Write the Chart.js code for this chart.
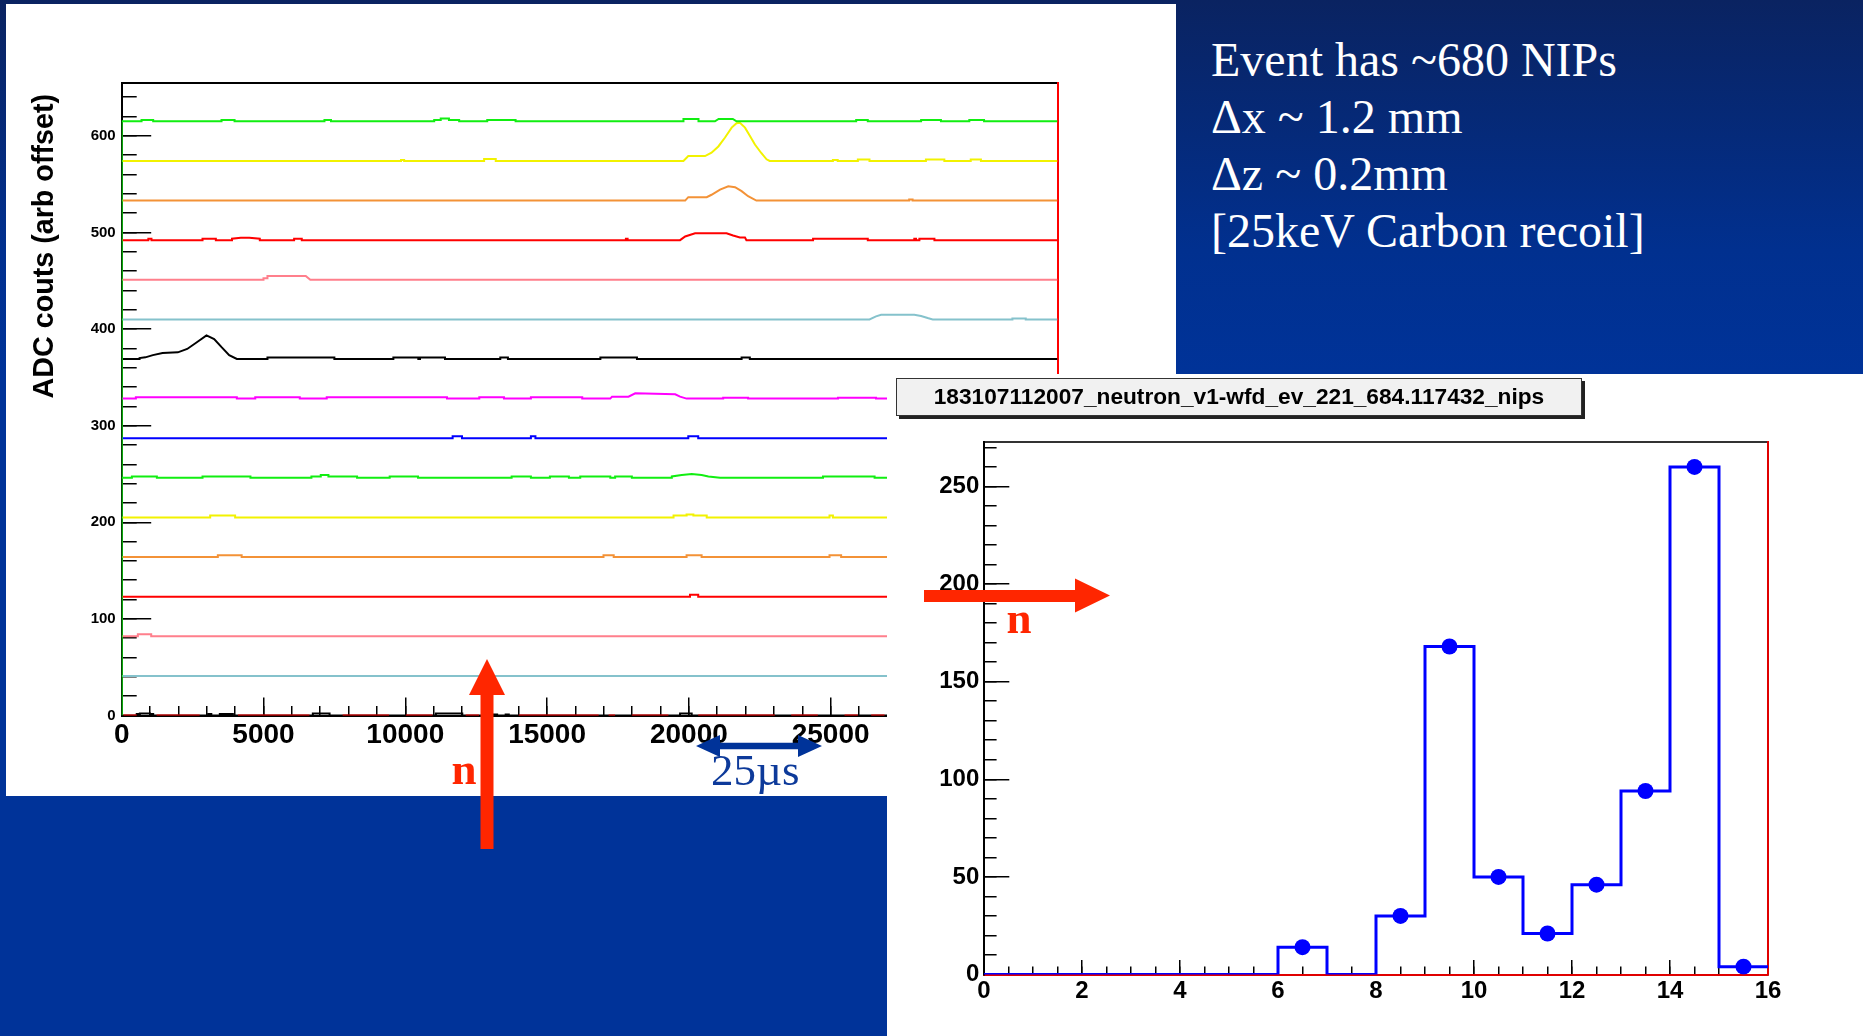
<!DOCTYPE html>
<html>
<head>
<meta charset="utf-8">
<title>NIP event 221</title>
<script src="https://cdn.jsdelivr.net/npm/chart.js@4.4.1/dist/chart.umd.min.js"></script>
<style>
  html, body { margin: 0; padding: 0; }
  body {
    width: 1863px; height: 1036px; position: relative; overflow: hidden;
    background: linear-gradient(180deg, #0a2361 0px, #01308f 250px, #003399 380px, #003399 100%);
  }
  #wfPanel { position: absolute; left: 6px; top: 4px; width: 1170px; height: 792px; background: #fff; }
  #histPanel { position: absolute; left: 887px; top: 374px; width: 976px; height: 662px; background: #fff; }
  #histTitle {
    position: absolute; left: 9px; top: 4px; width: 686px; height: 38px; box-sizing: border-box;
    background: #f1f1f1; border: 1.5px solid #333; box-shadow: 3px 3px 0 #222;
    font: bold 22.7px "Liberation Sans", Arial, sans-serif; color: #000;
    text-align: center; line-height: 35px; white-space: nowrap;
  }
  #notes {
    position: absolute; left: 1211px; top: 30.5px; color: #fff;
    font: 48px "Liberation Serif", "Times New Roman", serif; line-height: 57.3px; white-space: nowrap;
  }
  #marks { position: absolute; left: 0; top: 0; }
  canvas { display: block; }
</style>
</head>
<body>

<div id="wfPanel"><canvas id="wf" width="1170" height="792"></canvas></div>

<div id="notes">Event has ~680 NIPs<br>Δx ~ 1.2 mm<br>Δz ~ 0.2mm<br>[25keV Carbon recoil]</div>

<div id="histPanel">
  <canvas id="hist" width="976" height="662"></canvas>
  <div id="histTitle">183107112007_neutron_v1-wfd_ev_221_684.117432_nips</div>
</div>

<svg id="marks" width="1863" height="1036">
  <!-- beam direction, vertical -->
  <polygon fill="#ff2600" points="480.5,849 480.5,695 469,695 487,659 505,695 493.5,695 493.5,849"/>
  <text x="464" y="784" text-anchor="middle" fill="#ff2600" font-family="Liberation Serif" font-weight="bold" font-size="45">n</text>
  <!-- beam direction, horizontal -->
  <polygon fill="#ff2600" points="924,590 1075,590 1075,578.5 1110,595.5 1075,612.5 1075,602 924,602"/>
  <text x="1019" y="633" text-anchor="middle" fill="#ff2600" font-family="Liberation Serif" font-weight="bold" font-size="45">n</text>
  <!-- 25 microsecond span -->
  <polygon fill="#003399" points="696,746 720,735 720,742.7 798,742.7 798,735 822,746 798,757 798,749.3 720,749.3 720,757"/>
  <text x="711" y="785" fill="#0d3a9a" font-family="Liberation Serif" font-size="45">25µs</text>
</svg>

<script>
Chart.defaults.font.family = '"Liberation Sans", Arial, sans-serif';
Chart.defaults.color = '#000';

// ---- waveform display: 16 wfd channels, each shifted by a fixed offset ----
const wfSampleMax = 33000;
const wfCountMax = 655;
const wfMajorStep = 5000;
const wfMinorStep = 1000;
const chanOffset = [615, 574, 533, 492, 451, 410, 369, 328, 287, 246, 205, 164, 123, 82, 41, 0];
const chanColor = ['#11ee11', '#f2f200', '#f39237', '#ff0000', '#ff7f8c', '#85c2cc', '#000000', '#ff00ff',
                   '#0000ff', '#11ee11', '#f2f200', '#f39237', '#ff0000', '#ff7f8c', '#85c2cc', '#000000'];

// [sample, counts above the channel offset]
const ch15 = [[0,-615],[0,0],[700,0],[700,1.5],[1110,1.5],[1110,0],[3520,0],[3520,1.5],[3980,1.5],[3980,0],
  [7150,0],[7150,1.5],[7380,1.5],[7380,0],[11020,0],[11020,1.5],[11250,1.5],[11250,3],[11540,3],[11540,1.5],
  [11900,1.5],[11900,0],[12890,0],[12890,1.5],[13890,1.5],[13890,0],[19810,0],[19810,2.5],[20340,2.5],[20340,0],
  [20920,0],[21050,2.5],[21550,2.5],[21680,0],[25900,0],[25900,1.5],[26310,1.5],[26310,0],[28190,0],[28190,1.5],
  [28890,1.5],[28890,0],[29890,0],[29890,1.5],[30410,1.5],[30410,0]];
const ch14 = [[9850,0],[9850,1],[9960,1],[9960,0],[12780,0],[12780,2],[13190,2],[13190,0],[19810,0],[19980,5],
  [20570,5],[20800,8.5],[21040,15],[21270,24],[21510,34.5],[21680,39],[21800,39.5],[21980,34.5],[22150,26],
  [22330,17],[22560,8],[22740,1.7],[22850,0],[25080,0],[25080,1],[25250,1],[25250,0],[25960,0],[25960,1.5],
  [26370,1.5],[26370,0],[28360,0],[28360,1.5],[29010,1.5],[29010,0],[29940,0],[29940,1.5],[30300,1.5],[30300,0]];
const ch13 = [[19870,0],[19980,3.5],[20630,3.5],[20800,6],[21100,11.4],[21390,14.8],[21630,13.8],[21860,9.7],
  [22090,4.5],[22380,0],[27770,0],[27770,1],[27890,1],[27890,0]];
const ch12 = [[940,0],[940,1.5],[1050,1.5],[1050,0],[2850,0],[2850,1.5],[3320,1.5],[3320,0],[3890,0],[3890,1.5],
  [4200,2.5],[4500,2.5],[4870,1.5],[4870,0],[6080,0],[6080,1.5],[6350,1.5],[6350,0],[17780,0],[17780,1.5],
  [17840,1.5],[17840,0],[19690,0],[19870,3.8],[20220,7.2],[21330,7.2],[21560,4.8],[21800,2.8],[21980,2.8],
  [22030,0],[24380,0],[24380,1.5],[26310,1.5],[26310,0],[27950,0],[27950,1.5],[28010,1.5],[28010,0],
  [28130,0],[28130,1.5],[28660,1.5],[28660,0]];
const ch11 = [[5000,0],[5000,1.5],[5140,1.5],[5140,4],[6490,4],[6650,0]];
const ch10 = [[26370,0],[26600,3.1],[26780,4.8],[27950,4.8],[28190,3.5],[28420,1.4],[28600,0],[31410,0],
  [31410,1],[31880,1],[31880,0]];
const ch9 = [[630,0],[630,1],[835,1.7],[1100,4],[1440,6.2],[1980,6.9],[2310,10.4],[2650,17.3],[2990,24.5],
  [3260,20.7],[3530,12],[3790,4],[4060,0],[5140,0],[5140,1.5],[7500,1.5],[7500,0],[9580,0],[9580,1.5],
  [10460,1.5],[10460,0],[10520,0],[10520,1.5],[11400,1.5],[11400,0],[13350,0],[13350,1.5],[13620,1.5],
  [13620,0],[16880,0],[16880,1.5],[18170,1.5],[18170,0],[21860,0],[21860,1.5],[22150,1.5],[22150,0]];
const ch8 = [[500,0],[500,1.5],[4060,1.5],[4060,0],[4710,0],[4710,1.5],[6280,1.5],[6280,0],[7230,0],[7230,1.5],
  [11470,1.5],[11470,0],[12610,0],[12610,1.5],[13480,1.5],[13480,0],[14430,0],[14430,1.5],[16240,1.5],
  [16240,0],[17230,0],[17290,2],[17870,2],[18110,5.5],[19520,4.5],[19690,2],[19920,0],[21210,0],[21210,1],
  [22090,1],[22090,0],[25260,0],[25260,1],[26600,1],[26600,0]];
const ch7 = [[11670,0],[11670,2],[12000,2],[12000,0],[14430,0],[14430,2],[14590,2],[14590,0],[19980,0],
  [19980,2],[20330,2],[20330,0]];
const ch6 = [[360,0],[360,1.5],[1240,1.5],[1240,0],[2850,0],[2850,1.5],[4540,1.5],[4540,0],[6690,0],[6690,1.5],
  [7020,1.5],[7020,3],[7290,3],[7290,1.5],[8300,1.5],[8300,0],[9450,0],[9450,1.5],[10450,1.5],[10450,0],
  [13750,0],[13750,1.5],[14430,1.5],[14430,0],[15100,0],[15100,1.5],[15770,1.5],[15770,0],[16170,0],
  [16170,1.5],[17230,1.5],[17230,0],[17400,0],[17400,1.5],[17990,1.5],[17990,0],[19400,0],[19400,1.5],
  [19750,3],[20100,4],[20450,3],[20690,1.5],[21100,0],[24730,0],[24730,1.5],[26550,1.5],[26550,0]];
const ch5 = [[3120,0],[3120,2],[4000,2],[4000,0],[19460,0],[19460,2],[19920,2],[19920,3],[20160,3],[20160,2],
  [20630,2],[20630,0],[24960,0],[24960,2],[25080,2],[25080,0]];
const ch4 = [[3390,0],[3390,2],[4230,2],[4230,0],[16990,0],[16990,2],[17350,2],[17350,0],[19920,0],[19920,2],
  [20450,2],[20450,0],[24960,0],[24960,2],[25370,2],[25370,0]];
const ch3 = [[20040,0],[20040,2],[20330,2],[20330,0]];
const ch2 = [[570,0],[570,2],[1040,2],[1040,0]];
const ch1 = [];
const ch0 = [[530,0],[530,1.5],[640,1.5],[640,2],[1000,2],[1000,1.5],[1110,1.5],[1110,0],[3050,0],[3050,1.5],
  [3160,1.5],[3160,0],[3460,0],[3460,1.5],[3920,1.5],[3920,0],[6740,0],[6740,2],[7330,2],[7330,0],[11080,0],
  [11080,2],[12010,2],[12010,0],[13070,0],[13070,1],[13240,1],[13240,0],[13540,0],[13540,1],[13650,1],
  [13650,0],[19690,0],[19690,2],[20100,2],[20100,0]];
const chanPulses = [ch15, ch14, ch13, ch12, ch11, ch10, ch9, ch8, ch7, ch6, ch5, ch4, ch3, ch2, ch1, ch0];

// stretches where the red trace lies on top of the zero line [from, to]
const zeroRedRuns = [[60,530],[1230,2750],[4100,6620],[7790,9430],[10020,10960],[12130,12600],[14000,16820],
  [17170,17400],[17990,19280],[20330,23030],[23610,24550],[25490,25960],[26430,26900]];

// ---- NIPs per bin ----
const binEdges = [0,1,2,3,4,5,6,7,8,9,10,11,12,13,14,15,16];
const nipCounts = [0,0,0,0,0,0,14,0,30,168,50,21,46,94,260,4];
const histMax = 273;

function traceData(base, pulse) {
  const pts = [{x: 0, y: base}];
  pulse.forEach(([s, dy]) => pts.push({x: s, y: base + dy}));
  pts.push({x: wfSampleMax, y: base});
  return pts;
}

// first dataset is drawn last, so the upper channels sit on top
const wfSets = chanPulses.map((p, i) => ({
  data: traceData(chanOffset[i], p),
  borderColor: chanColor[i],
  borderWidth: 2,
  pointRadius: 0,
  tension: 0,
  fill: false
}));
const redRunData = [];
zeroRedRuns.forEach(([a, b]) => { redRunData.push({x: a, y: 0}, {x: b, y: 0}, {x: b, y: null}); });
wfSets.splice(wfSets.length - 1, 0, {
  data: redRunData, borderColor: '#ff0000', borderWidth: 2, pointRadius: 0, tension: 0, fill: false, spanGaps: false
});

// fixed tick spacing on the sample axis (the axis end is not a multiple of the step)
function sampleTicks(step) {
  return scale => {
    const ticks = [];
    for (let v = 0; v <= wfSampleMax; v += step) ticks.push({ value: v });
    scale.ticks = ticks;
  };
}

// rotated axis title placed on the left margin
const sideTitle = {
  id: 'sideTitle',
  afterDraw(chart, args, opts) {
    const ctx = chart.ctx;
    ctx.save();
    ctx.translate(opts.x, opts.y);
    ctx.rotate(-Math.PI / 2);
    ctx.font = opts.font;
    ctx.fillStyle = opts.color;
    ctx.textAlign = 'right';
    ctx.textBaseline = 'middle';
    ctx.fillText(opts.text, 0, 0);
    ctx.restore();
  }
};

const plainNum = v => String(v);

new Chart(document.getElementById('wf'), {
  type: 'line',
  data: { datasets: wfSets },
  plugins: [sideTitle],
  options: {
    responsive: false,
    animation: false,
    devicePixelRatio: 1,
    layout: { padding: { left: 0, top: 78.7, right: 118.5, bottom: 0 } },
    plugins: {
      legend: { display: false },
      tooltip: { enabled: false },
      sideTitle: { text: 'ADC couts (arb offset)', x: 39, y: 90, font: 'bold 28.7px "Liberation Sans"', color: '#000' }
    },
    scales: {
      x: {
        type: 'linear', position: 'bottom', min: 0, max: wfSampleMax, weight: 1,
        afterBuildTicks: sampleTicks(wfMajorStep),
        afterFit: s => { s.height = 80.5; },
        ticks: { autoSkip: false, maxRotation: 0, padding: 21,
                 font: { size: 28, weight: 'bold' }, callback: plainNum },
        grid: { drawOnChartArea: false, tickLength: -18, color: '#000', lineWidth: 1.5 },
        border: { color: '#000', width: 2 }
      },
      xMinor: {
        type: 'linear', position: 'bottom', min: 0, max: wfSampleMax, weight: 0,
        afterBuildTicks: sampleTicks(wfMinorStep),
        afterFit: s => { s.height = 0; },
        ticks: { display: false },
        grid: { drawOnChartArea: false, tickLength: -9.5, color: '#000', lineWidth: 1.5 },
        border: { display: false }
      },
      xTop: {
        type: 'linear', position: 'top', min: 0, max: wfSampleMax,
        afterFit: s => { s.height = 0; },
        ticks: { display: false }, grid: { display: false },
        border: { color: '#000', width: 2 }
      },
      y: {
        type: 'linear', position: 'left', min: 0, max: wfCountMax, weight: 1,
        afterFit: s => { s.width = 115.7; },
        ticks: { stepSize: 100, includeBounds: false, padding: 35.5,
                 font: { size: 15, weight: 'bold' }, callback: plainNum },
        grid: { drawOnChartArea: false, tickLength: -29.5, color: '#000', lineWidth: 1.5 },
        border: { color: '#000', width: 2 }
      },
      yMinor: {
        type: 'linear', position: 'left', min: 0, max: wfCountMax, weight: 0,
        afterFit: s => { s.width = 0; },
        ticks: { display: false, stepSize: 20, includeBounds: false },
        grid: { drawOnChartArea: false, tickLength: -15, color: '#000', lineWidth: 1.5 },
        border: { display: false }
      },
      yRight: {
        type: 'linear', position: 'right', min: 0, max: wfCountMax,
        afterFit: s => { s.width = 0; },
        ticks: { display: false }, grid: { display: false },
        border: { color: '#ff0000', width: 2 }
      }
    }
  }
});

// ---- histogram ----
const stepData = binEdges.map((e, i) => ({ x: e, y: nipCounts[Math.min(i, nipCounts.length - 1)] }));
const markerData = nipCounts
  .map((c, i) => ({ x: (binEdges[i] + binEdges[i + 1]) / 2, y: c }))
  .filter(p => p.y > 0);

new Chart(document.getElementById('hist'), {
  type: 'line',
  data: {
    datasets: [
      { data: markerData, showLine: false, pointRadius: 8, pointStyle: 'circle',
        pointBackgroundColor: '#0000ff', pointBorderColor: '#0000ff', pointBorderWidth: 0 },
      { data: stepData, stepped: 'before', borderColor: '#0000ff', borderWidth: 3, pointRadius: 0, fill: false }
    ]
  },
  options: {
    responsive: false,
    animation: false,
    devicePixelRatio: 1,
    layout: { padding: { left: 0, top: 67.5, right: 95, bottom: 0 } },
    plugins: { legend: { display: false }, tooltip: { enabled: false } },
    scales: {
      x: {
        type: 'linear', position: 'bottom', min: 0, max: 16, weight: 1,
        afterFit: s => { s.height = 61.5; },
        ticks: { stepSize: 2, includeBounds: false, autoSkip: false, maxRotation: 0, padding: 16.6,
                 font: { size: 24, weight: 'bold' }, callback: plainNum },
        grid: { drawOnChartArea: false, tickLength: -14.6, color: '#000', lineWidth: 1.5 },
        border: { color: '#e00000', width: 2 }
      },
      xMinor: {
        type: 'linear', position: 'bottom', min: 0, max: 16, weight: 0,
        afterFit: s => { s.height = 0; },
        ticks: { display: false, stepSize: 0.5, includeBounds: false },
        grid: { drawOnChartArea: false, tickLength: -8, color: '#000', lineWidth: 1.5 },
        border: { display: false }
      },
      xTop: {
        type: 'linear', position: 'top', min: 0, max: 16,
        afterFit: s => { s.height = 0; },
        ticks: { display: false }, grid: { display: false },
        border: { color: '#333', width: 2 }
      },
      y: {
        type: 'linear', position: 'left', min: 0, max: histMax, weight: 1,
        afterFit: s => { s.width = 97; },
        ticks: { stepSize: 50, includeBounds: false, padding: 30,
                 font: { size: 24, weight: 'bold' }, callback: plainNum },
        grid: { drawOnChartArea: false, tickLength: -25.3, color: '#000', lineWidth: 1.5 },
        border: { color: '#000', width: 2 }
      },
      yMinor: {
        type: 'linear', position: 'left', min: 0, max: histMax, weight: 0,
        afterFit: s => { s.width = 0; },
        ticks: { display: false, stepSize: 10, includeBounds: false },
        grid: { drawOnChartArea: false, tickLength: -12.6, color: '#000', lineWidth: 1.5 },
        border: { display: false }
      },
      yRight: {
        type: 'linear', position: 'right', min: 0, max: histMax,
        afterFit: s => { s.width = 0; },
        ticks: { display: false }, grid: { display: false },
        border: { color: '#e00000', width: 2 }
      }
    }
  }
});
</script>
</body>
</html>
